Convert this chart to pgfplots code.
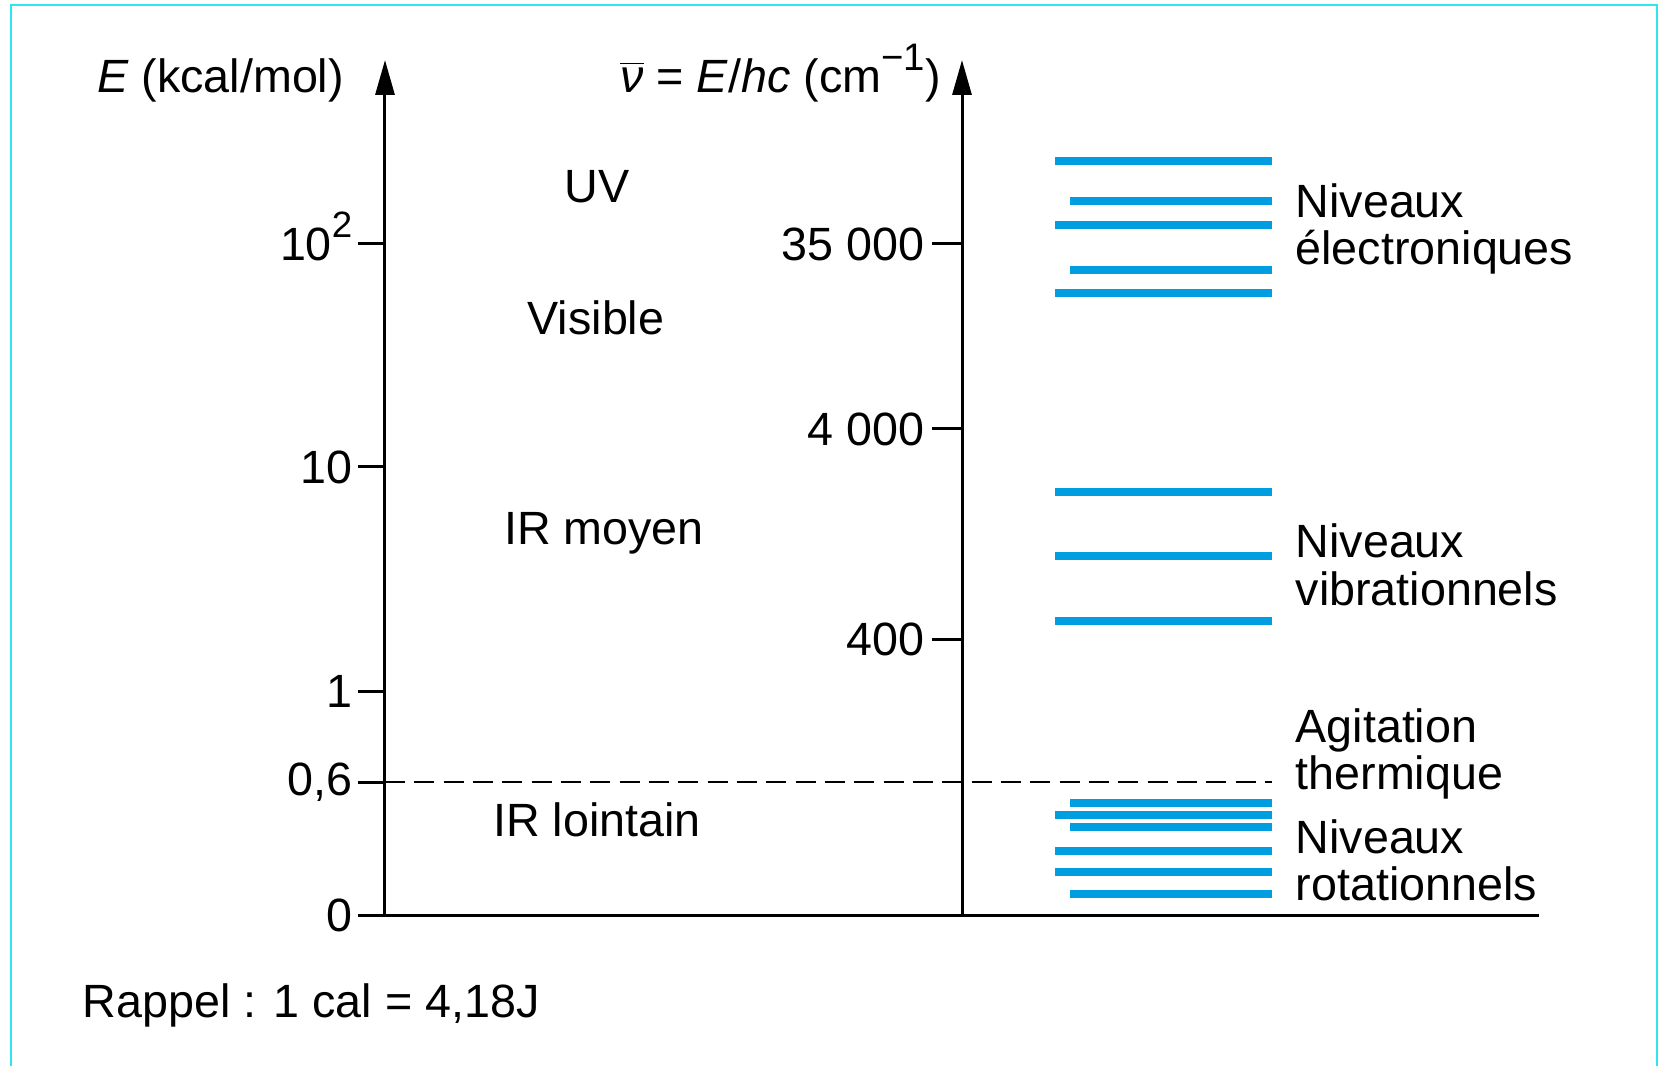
\documentclass[border=0pt]{standalone}
\usepackage{fontspec}
\setmainfont{Liberation Sans}
\usepackage{pgfplots}
\pgfplotsset{compat=1.18}
\usetikzlibrary{arrows.meta}
\definecolor{lvl}{HTML}{009EE0}
\definecolor{framecol}{HTML}{2EE6EE}
\newcommand{\mysup}[2][11]{\raisebox{0.48em}{\fontsize{#1}{#1}\selectfont #2}}
\begin{document}
\fontsize{14}{14.4}\selectfont
\begin{tikzpicture}
\useasboundingbox (0,0) rectangle (498.6pt,319.5pt);
\draw[framecol, line width=0.6pt] (3.3pt,-5pt) -- (3.3pt,318pt) -- (497.1pt,318pt) -- (497.1pt,-5pt);
\begin{axis}[
 at={(115.5pt,45pt)}, anchor=south west, scale only axis,
 width=346.2pt, height=256.5pt,
 xmin=385, xmax=1539, ymin=0, ymax=855,
 axis x line=bottom, axis y line=left,
 axis line style={line width=0.9pt, black},
 x axis line style={-},
 y axis line style={-{Triangle[length=10.5pt,width=5.7pt]}},
 xtick=\empty,
 ytick={0,133,224,448,671},
 yticklabels={0,{0,6},1,10,10\smash{\mysup{2}}},
 tick align=outside, major tick length=8pt,
 tick style={line width=0.9pt, black},
 yticklabel style={font=\fontsize{14}{14.4}\selectfont, inner sep=0pt, xshift=-1.6pt},
 clip=false,
]
% thermal agitation level
\addplot[black, line width=0.55pt, dash pattern=on 6pt off 2.8pt] coordinates {(385,133) (1272,133)};
% electronic levels
\addplot[lvl, line width=2.5pt, line cap=butt] coordinates {(1055,754) (1272,754)};
\addplot[lvl, line width=2.5pt, line cap=butt] coordinates {(1070,714) (1272,714)};
\addplot[lvl, line width=2.5pt, line cap=butt] coordinates {(1055,690) (1272,690)};
\addplot[lvl, line width=2.5pt, line cap=butt] coordinates {(1070,645) (1272,645)};
\addplot[lvl, line width=2.5pt, line cap=butt] coordinates {(1055,622) (1272,622)};
% vibrational levels
\addplot[lvl, line width=2.5pt, line cap=butt] coordinates {(1055,423) (1272,423)};
\addplot[lvl, line width=2.5pt, line cap=butt] coordinates {(1055,359) (1272,359)};
\addplot[lvl, line width=2.5pt, line cap=butt] coordinates {(1055,294) (1272,294)};
% rotational levels
\addplot[lvl, line width=2.5pt, line cap=butt] coordinates {(1070,112) (1272,112)};
\addplot[lvl, line width=2.5pt, line cap=butt] coordinates {(1055,100) (1272,100)};
\addplot[lvl, line width=2.5pt, line cap=butt] coordinates {(1070,88) (1272,88)};
\addplot[lvl, line width=2.5pt, line cap=butt] coordinates {(1055,64) (1272,64)};
\addplot[lvl, line width=2.5pt, line cap=butt] coordinates {(1055,43) (1272,43)};
\addplot[lvl, line width=2.5pt, line cap=butt] coordinates {(1070,21) (1272,21)};
% region labels
\node[anchor=base] at (axis cs:597,712) {UV};
\node[anchor=base] at (axis cs:596,580) {Visible};
\node[anchor=base] at (axis cs:604,370) {IR moyen};
\node[anchor=base] at (axis cs:597,79) {IR lointain};
% level labels
\node[anchor=base west, inner sep=0pt] at (axis cs:1295,697) {Niveaux};
\node[anchor=base west, inner sep=0pt] at (axis cs:1295,650) {électroniques};
\node[anchor=base west, inner sep=0pt] at (axis cs:1295,358) {Niveaux};
\node[anchor=base west, inner sep=0pt] at (axis cs:1295,310) {vibrationnels};
\node[anchor=base west, inner sep=0pt] at (axis cs:1295,173) {Agitation};
\node[anchor=base west, inner sep=0pt] at (axis cs:1295,126) {thermique};
\node[anchor=base west, inner sep=0pt] at (axis cs:1295,62) {Niveaux};
\node[anchor=base west, inner sep=0pt] at (axis cs:1295,15) {rotationnels};
% axis titles
\node[anchor=base, inner sep=0pt] at (axis cs:220.5,822) {\textit{E} (kcal/mol)};
\node[anchor=base, inner sep=0pt] at (axis cs:780.5,822) {$\overline{\hbox{\itshape ν}}$ = \textit{E}/\textit{hc} (cm\mysup[11.5]{−1})};
% note
\node[anchor=base west, inner sep=0pt] at (axis cs:82,-102) {Rappel : 1 cal = 4,18J};
\end{axis}
\begin{axis}[
 at={(288.6pt,45pt)}, anchor=south west, scale only axis,
 width=20pt, height=256.5pt,
 xmin=0, xmax=1, ymin=0, ymax=855,
 axis x line=none, axis y line=left,
 axis line style={line width=0.9pt, black},
 y axis line style={-{Triangle[length=10.5pt,width=5.7pt]}},
 xtick=\empty,
 ytick={276,486,671},
 yticklabels={400,4~000,35~000},
 tick align=outside, major tick length=9pt,
 tick style={line width=0.9pt, black},
 yticklabel style={font=\fontsize{14}{14.4}\selectfont, inner sep=0pt, xshift=-2pt},
 clip=false,
]
\addplot[draw=none] coordinates {(0,0)};
\end{axis}
\end{tikzpicture}
\end{document}
